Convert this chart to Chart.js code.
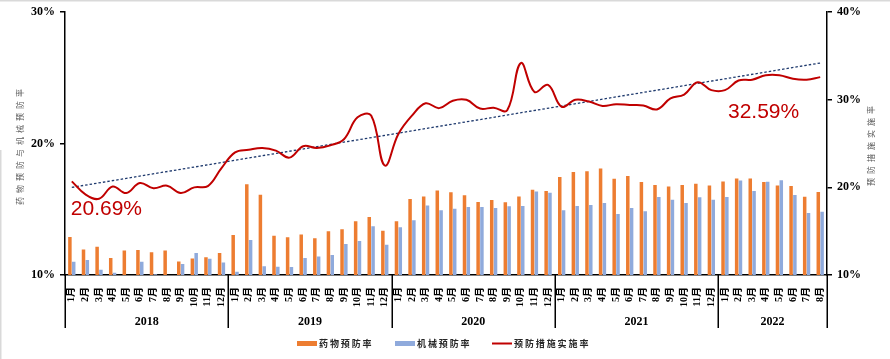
<!DOCTYPE html>
<html>
<head>
<meta charset="utf-8">
<script src="https://cdn.jsdelivr.net/npm/chart.js@4/dist/chart.umd.min.js"></script>
<style>
html,body{margin:0;padding:0;background:#fff;}
canvas{display:block;}
</style>
</head>
<body>
<canvas id="c" width="890" height="359"></canvas>
<script>
const months = [
  '1月','2月','3月','4月','5月','6月','7月','8月','9月','10月','11月','12月',
  '1月','2月','3月','4月','5月','6月','7月','8月','9月','10月','11月','12月',
  '1月','2月','3月','4月','5月','6月','7月','8月','9月','10月','11月','12月',
  '1月','2月','3月','4月','5月','6月','7月','8月','9月','10月','11月','12月',
  '1月','2月','3月','4月','5月','6月','7月','8月'
];
const years = ['2018','2019','2020','2021','2022'];
const yearMonthCounts = [12,12,12,12,8];

// 药物预防率 (left axis, %)
const drugRate = [
  12.9, 11.95, 12.15, 11.3, 11.87, 11.9, 11.74, 11.87, 11.03, 11.26, 11.36, 11.67,
  13.05, 16.9, 16.1, 12.98, 12.88, 13.08, 12.8, 13.33, 13.48, 14.09, 14.42, 13.36,
  14.09, 15.78, 15.98, 16.44, 16.29, 16.06, 15.55, 15.7, 15.53, 15.98, 16.49, 16.39,
  17.45, 17.83, 17.9, 18.1, 17.32, 17.53, 17.07, 16.84, 16.74, 16.84, 16.94, 16.82,
  17.12, 17.35, 17.35, 17.07, 16.82, 16.77, 15.96, 16.31
];
// 机械预防率 (left axis, %)
const mechRate = [
  11.0, 11.14, 10.4, 10.17, 10.0, 11.0, 10.05, 10.0, 10.83, 11.67, 11.24, 10.96,
  10.25, 12.67, 10.66, 10.63, 10.6, 11.29, 11.41, 11.52, 12.35, 12.58, 13.71, 12.3,
  13.64, 14.17, 15.28, 14.92, 15.05, 15.17, 15.17, 15.1, 15.23, 15.25, 16.36, 16.26,
  14.92, 15.25, 15.33, 15.48, 14.65, 15.1, 14.85, 15.93, 15.73, 15.48, 15.91, 15.73,
  15.93, 17.2, 16.39, 17.1, 17.22, 16.08, 14.72, 14.82
];
// 预防措施实施率 (right axis, %)
const implRate = [
  20.69, 19.2, 18.7, 20.1, 19.35, 20.5, 19.9, 20.2, 19.35, 20.0, 20.15, 22.2,
  24.0, 24.3, 24.5, 24.2, 23.4, 24.7, 24.5, 24.8, 25.5, 28.0, 28.2, 22.5,
  26.1, 28.2, 29.6, 29.05, 29.9, 30.0, 29.0, 29.1, 28.8, 34.2, 30.9, 31.7,
  29.2, 30.0, 29.8, 29.3, 29.5, 29.4, 29.35, 28.9, 30.15, 30.6, 32.0, 31.1,
  31.1, 32.2, 32.3, 32.8, 32.8, 32.4, 32.3, 32.59
];
// linear trend line of 预防措施实施率: value at first and last month
const trendEnds = [20.0, 34.2];

const leftTicks = [10, 20, 30];
const rightTicks = [10, 20, 30, 40];
const leftTitle = '药物预防与机械预防率';
const rightTitle = '预防措施实施率';
const firstLabel = '20.69%';
const lastLabel = '32.59%';

const ORANGE = '#ED7D31', BLUE = '#8FAADC', RED = '#C00000', NAVY = '#1F3A6E';
const SERIF = "'Liberation Serif','Noto Sans CJK SC',serif";
const CJK = "'Noto Sans CJK SC',sans-serif";

const trendData = months.map((m, i) => i === 0 ? trendEnds[0] : (i === months.length - 1 ? trendEnds[1] : null));

function spacedText(ctx, text, x, y, step) {
  for (let i = 0; i < text.length; i++) ctx.fillText(text[i], x + i * step, y);
}

const decor = {
  id: 'decor',
  beforeDraw(chart) {
    const ctx = chart.ctx;
    ctx.save();
    ctx.fillStyle = '#fff';
    ctx.fillRect(0, 0, chart.width, chart.height);
    ctx.fillStyle = '#d9d9d9';
    ctx.fillRect(0, 0, chart.width, 1.5);
    ctx.fillRect(0, 150, 1.5, chart.height - 150);
    ctx.restore();
  },
  afterDraw(chart) {
    const ctx = chart.ctx;
    const a = chart.chartArea;
    const x = chart.scales.x, yR = chart.scales.yR;
    ctx.save();
    // year separators & labels
    const sepBottom = a.bottom + 53;
    const bounds = [x.left];
    let idx = 0;
    yearMonthCounts.forEach((n, k) => {
      idx += n;
      if (k < yearMonthCounts.length - 1) {
        bounds.push((x.getPixelForValue(idx - 1) + x.getPixelForValue(idx)) / 2);
      } else bounds.push(x.right);
    });
    ctx.strokeStyle = '#000';
    ctx.lineWidth = 1.5;
    bounds.forEach(b => {
      ctx.beginPath();
      ctx.moveTo(Math.round(b) + 0.25, a.bottom);
      ctx.lineTo(Math.round(b) + 0.25, sepBottom);
      ctx.stroke();
    });
    ctx.fillStyle = '#000';
    ctx.font = "bold 12px " + SERIF;
    ctx.textAlign = 'center';
    ctx.textBaseline = 'middle';
    years.forEach((yv, k) => {
      ctx.fillText(yv, (bounds[k] + bounds[k + 1]) / 2, a.bottom + 47);
    });

    // value annotations
    ctx.fillStyle = RED;
    ctx.font = "21px 'Liberation Sans',Arial,sans-serif";
    ctx.textBaseline = 'alphabetic';
    ctx.textAlign = 'left';
    const x0 = x.getPixelForValue(0), y0 = yR.getPixelForValue(implRate[0]);
    ctx.fillText(firstLabel, x0 - 1, y0 + 34);
    const n = implRate.length - 1;
    const x1 = x.getPixelForValue(n), y1 = yR.getPixelForValue(implRate[n]);
    ctx.textAlign = 'right';
    ctx.fillText(lastLabel, x1 - 21, y1 + 41);

    // axis titles (rotated)
    ctx.fillStyle = '#595959';
    ctx.font = "8px " + CJK;
    ctx.textAlign = 'center';
    ctx.textBaseline = 'middle';
    const drawVert = (text, cx, cy, step) => {
      ctx.save();
      ctx.translate(cx, cy);
      ctx.rotate(-Math.PI / 2);
      const start = -(text.length - 1) * step / 2;
      spacedText(ctx, text, start, 0, step);
      ctx.restore();
    };
    drawVert(leftTitle, 20, 147, 12);
    drawVert(rightTitle, 871, 146, 12);

    // legend
    const ly = 343.5;
    const items = [
      {ds: chart.data.datasets[2], x: 297, type: 'box'},
      {ds: chart.data.datasets[3], x: 395, type: 'box'},
      {ds: chart.data.datasets[0], x: 492, type: 'line'}
    ];
    ctx.font = "bold 9px " + CJK;
    ctx.textAlign = 'left';
    ctx.textBaseline = 'middle';
    items.forEach(it => {
      if (it.type === 'box') {
        ctx.fillStyle = it.ds.backgroundColor;
        ctx.fillRect(it.x, ly - 2.5, 20, 5);
      } else {
        ctx.strokeStyle = it.ds.borderColor;
        ctx.lineWidth = 2;
        ctx.beginPath();
        ctx.moveTo(it.x, ly);
        ctx.lineTo(it.x + 20, ly);
        ctx.stroke();
      }
      ctx.fillStyle = '#262626';
      spacedText(ctx, it.ds.label, it.x + 22, ly, 10.9);
    });
    ctx.restore();
  }
};

const yTickFont = {family: SERIF, size: 12, weight: 'bold'};

new Chart(document.getElementById('c'), {
  type: 'bar',
  data: {
    labels: months,
    datasets: [
      {type: 'line', label: '预防措施实施率', data: implRate, yAxisID: 'yR', borderColor: RED, backgroundColor: RED,
       borderWidth: 2, pointRadius: 0, tension: 0.4, order: 0},
      {type: 'line', label: '趋势', data: trendData, yAxisID: 'yR', borderColor: NAVY, borderWidth: 1.3,
       borderDash: [2.5, 2], pointRadius: 0, spanGaps: true, order: 1},
      {type: 'bar', label: '药物预防率', data: drugRate, yAxisID: 'yL', backgroundColor: ORANGE,
       categoryPercentage: 0.56, barPercentage: 0.92, order: 2},
      {type: 'bar', label: '机械预防率', data: mechRate, yAxisID: 'yL', backgroundColor: BLUE,
       categoryPercentage: 0.56, barPercentage: 0.92, order: 3}
    ]
  },
  options: {
    responsive: false,
    animation: false,
    layout: {padding: {top: 11, left: 0, right: 0, bottom: 0}},
    plugins: {legend: {display: false}, tooltip: {enabled: false}},
    scales: {
      x: {
        offset: true,
        grid: {display: false, drawTicks: false},
        border: {display: true, color: '#000', width: 1.5},
        ticks: {autoSkip: false, minRotation: 90, maxRotation: 90, padding: 12, color: '#000',
                font: {family: SERIF, size: 10, weight: 'bold'}},
        afterFit(s) { s.height = 84; }
      },
      yL: {
        position: 'left', min: 10, max: 30,
        afterBuildTicks(s) { s.ticks = leftTicks.map(v => ({value: v})); },
        ticks: {padding: 5, color: '#000', font: yTickFont, callback: v => v + '%'},
        grid: {drawOnChartArea: false, drawTicks: true, tickLength: 5, color: '#000', lineWidth: 1.5},
        border: {display: true, color: '#000', width: 1.5},
        afterFit(s) { s.width = 65; }
      },
      yR: {
        position: 'right', min: 10, max: 40,
        afterBuildTicks(s) { s.ticks = rightTicks.map(v => ({value: v})); },
        ticks: {padding: 5, color: '#000', font: yTickFont, callback: v => v + '%'},
        grid: {drawOnChartArea: false, drawTicks: true, tickLength: 5, color: '#000', lineWidth: 1.5},
        border: {display: true, color: '#000', width: 1.5},
        afterFit(s) { s.width = 63; }
      }
    }
  },
  plugins: [decor]
});
</script>
</body>
</html>
